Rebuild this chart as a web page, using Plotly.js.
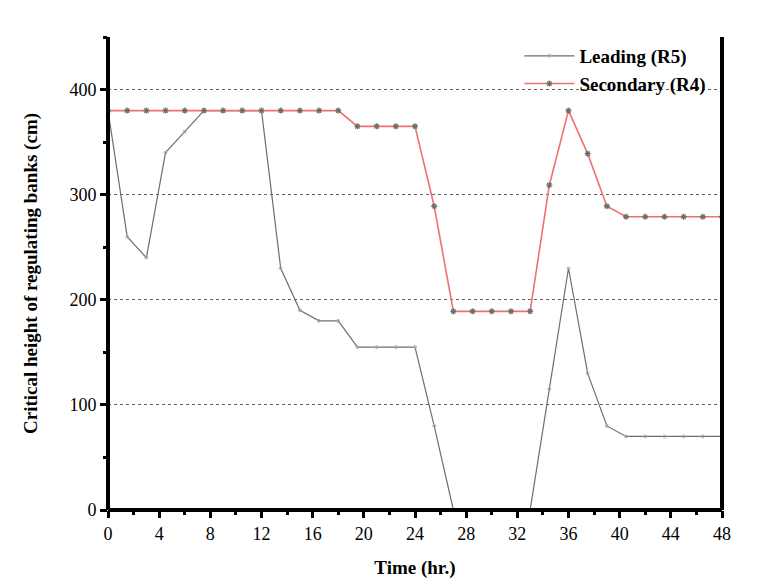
<!DOCTYPE html>
<html>
<head>
<meta charset="utf-8">
<script src="https://cdn.plot.ly/plotly-3.0.1.min.js"></script>
<style>html,body{margin:0;padding:0;background:#fff;}#chart{width:757px;height:579px;}</style>
</head>
<body>
<div id="chart"></div>
<script>
const timeHr = [0,1.5,3,4.5,6,7.5,9,10.5,12,13.5,15,16.5,18,19.5,21,22.5,24,25.5,27,28.5,30,31.5,33,34.5,36,37.5,39,40.5,42,43.5,45,46.5,48];
const leadingR5 = [380,260,240,340,360,380,380,380,380,230,190,180,180,155,155,155,155,80,0,0,0,0,0,115,230,130,80,70,70,70,70,70,70];
const secondaryR4 = [380,380,380,380,380,380,380,380,380,380,380,380,380,365,365,365,365,289,189,189,189,189,189,309,380,339,289,279,279,279,279,279,279];
const xTicks = [0,4,8,12,16,20,24,28,32,36,40,44,48];
const yTicks = [0,100,200,300,400];

const serif = "Liberation Serif";

const traces = [
  {
    x: timeHr, y: leadingR5, name: 'Leading (R5)', type: 'scatter', mode: 'lines+markers',
    line: {color: '#6e6e6e', width: 1.2},
    marker: {symbol: 'circle-open', size: 3, color: '#b0b0b0', line: {width: 1, color: '#b0b0b0'}}
  },
  {
    x: timeHr, y: secondaryR4, name: 'Secondary (R4)', type: 'scatter', mode: 'lines+markers',
    line: {color: '#f07070', width: 1.6},
    marker: {symbol: 'asterisk-open', size: 5, color: '#6e6e6e', line: {width: 1.3, color: '#6e6e6e'}}
  }
];

const layout = {
  width: 757, height: 579,
  margin: {l: 108, r: 35, t: 37, b: 69},
  paper_bgcolor: '#fff', plot_bgcolor: '#fff',
  font: {family: serif, color: '#000', size: 16},
  showlegend: true,
  legend: {
    x: 0.67, y: 1.0, xanchor: 'left', yanchor: 'top',
    bgcolor: 'rgba(0,0,0,0)', borderwidth: 0,
    font: {family: serif, size: 19, color: '#000', weight: 'bold'},
    tracegroupgap: 0, itemwidth: 50
  },
  xaxis: {
    range: [0, 48], tickmode: 'array', tickvals: xTicks, ticktext: xTicks.map(String),
    ticks: 'outside', ticklen: 7, tickwidth: 3, tickcolor: '#000',
    minor: {dtick: 2, ticks: 'outside', ticklen: 4, tickwidth: 3, tickcolor: '#000', showgrid: false},
    showline: false,
    showgrid: false, zeroline: false,
    tickfont: {family: serif, size: 18, color: '#000'},
    title: {text: '<b>Time (hr.)</b>', font: {family: serif, size: 19, color: '#000'}, standoff: 20}
  },
  yaxis: {
    range: [0, 450], tickmode: 'array', tickvals: yTicks, ticktext: yTicks.map(String),
    ticks: 'outside', ticklen: 7, tickwidth: 3, tickcolor: '#000',
    minor: {dtick: 50, ticks: 'outside', ticklen: 4, tickwidth: 3, tickcolor: '#000', showgrid: false},
    showline: false,
    showgrid: true, gridcolor: '#606060', gridwidth: 1, griddash: 'dot',
    zeroline: false,
    tickfont: {family: serif, size: 18, color: '#000'},
    title: {text: '<b>Critical height of regulating banks (cm)</b>', font: {family: serif, size: 19, color: '#000'}, standoff: 26}
  },
  shapes: [
    {type: 'line', xref: 'x domain', yref: 'y domain', x0: 0, x1: 0, y0: 0, y1: 1, line: {color: '#000', width: 4}},
    {type: 'line', xref: 'x domain', yref: 'y domain', x0: 1, x1: 1, y0: 0, y1: 1, line: {color: '#000', width: 4}},
    {type: 'line', xref: 'x domain', yref: 'y domain', x0: 0, x1: 1, y0: 0, y1: 0, line: {color: '#000', width: 4}}
  ]
};

Plotly.newPlot('chart', traces, layout, {displayModeBar: false, staticPlot: true});
</script>
</body>
</html>
